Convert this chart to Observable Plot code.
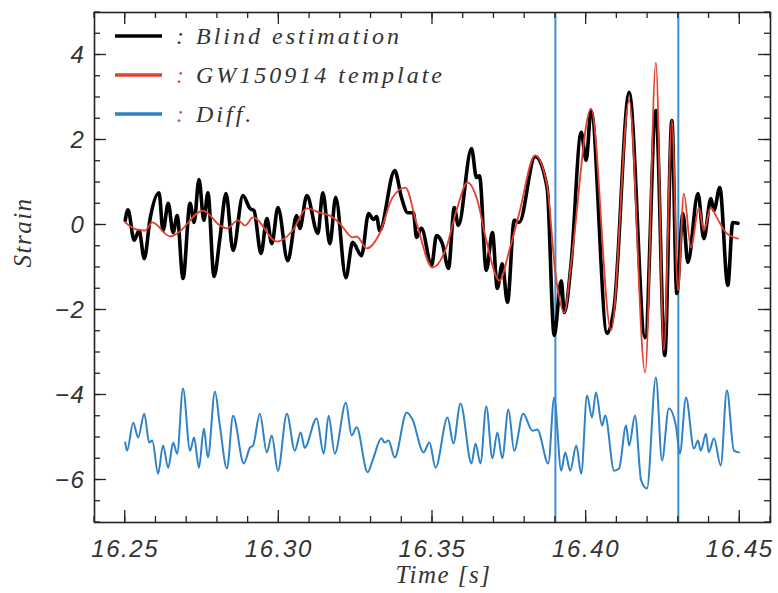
<!DOCTYPE html>
<html><head><meta charset="utf-8">
<script src="https://cdn.jsdelivr.net/npm/d3@7"></script>
<script src="https://cdn.jsdelivr.net/npm/@observablehq/plot@0.6"></script>
<style>
body{margin:0;background:#fff;}
#wrap{width:778px;height:593px;}
.ticklab text{letter-spacing:1.6px;}
.axlab text{letter-spacing:1.5px;}
</style></head><body><div id="wrap"></div>
<script>
// Blind estimation (black)
const blindTime = [16.2500,16.2509,16.2529,16.2545,16.2562,16.2581,16.2610,16.2623,16.2640,16.2656,16.2669,16.2688,16.2711,16.2724,16.2740,16.2756,16.2769,16.2789,16.2808,16.2828,16.2851,16.2883,16.2906,16.2919,16.2942,16.2961,16.2977,16.2997,16.3029,16.3058,16.3068,16.3091,16.3127,16.3143,16.3166,16.3185,16.3218,16.3240,16.3269,16.3292,16.3308,16.3318,16.3328,16.3377,16.3399,16.3419,16.3438,16.3448,16.3464,16.3497,16.3513,16.3532,16.3552,16.3571,16.3584,16.3627,16.3643,16.3653,16.3675,16.3695,16.3711,16.3727,16.3744,16.3766,16.3782,16.3834,16.3873,16.3896,16.3919,16.3929,16.3951,16.3984,16.4000,16.4016,16.4068,16.4091,16.4140,16.4192,16.4227,16.4256,16.4279,16.4295,16.4315,16.4331,16.4364,16.4383,16.4406,16.4416,16.4435,16.4461,16.4477,16.4494];
const blindStrain = [0.11,0.36,-0.36,-0.13,-0.79,0.15,0.76,-0.13,0.51,-0.18,0.22,-1.26,0.51,0.06,1.07,0.11,0.76,-1.21,-0.32,0.74,-0.60,0.69,0.39,0.34,-0.67,0.15,-0.44,0.41,-0.84,0.22,-0.08,0.69,-0.20,0.76,-0.44,0.65,-1.24,-0.41,-0.72,0.27,0.13,0.20,-0.13,1.28,0.65,0.29,0.29,-0.29,-0.08,-0.95,-0.25,-0.44,-1.02,0.41,-0.01,1.80,1.12,1.16,-1.07,-0.18,-1.49,-0.91,-1.82,0.11,0.06,1.61,0.88,-2.60,-1.31,-2.06,-0.91,2.18,1.52,2.69,-2.55,-1.94,3.12,-2.65,2.69,-3.07,2.46,-1.61,0.27,-0.88,0.74,-0.32,0.62,0.34,0.88,-1.42,0.06,0.04];

// GW150914 template (red)
const templateTime = [16.2500,16.2539,16.2565,16.2588,16.2646,16.2669,16.2753,16.2808,16.2831,16.2867,16.2890,16.2916,16.2994,16.3045,16.3091,16.3133,16.3166,16.3198,16.3240,16.3253,16.3286,16.3328,16.3370,16.3412,16.3448,16.3500,16.3545,16.3578,16.3614,16.3646,16.3675,16.3718,16.3750,16.3782,16.3834,16.3873,16.3899,16.3929,16.3951,16.4016,16.4081,16.4140,16.4192,16.4227,16.4253,16.4279,16.4299,16.4318,16.4341,16.4367,16.4383,16.4406,16.4425,16.4455,16.4494];
const templateStrain = [0.06,-0.11,-0.13,0.06,-0.27,-0.20,0.34,-0.01,-0.08,0.11,-0.01,0.18,-0.39,-0.13,0.39,0.29,0.22,0.04,-0.29,-0.27,-0.55,-0.20,0.65,0.88,0.04,-1.00,-0.53,0.34,1.00,0.58,-0.36,-1.31,-0.60,0.27,1.64,0.93,-1.07,-2.06,-0.91,2.74,-2.48,2.93,-3.47,3.82,-2.95,2.46,-1.54,0.74,-0.53,0.41,-0.13,0.41,0.18,-0.18,-0.32];

// Diff. (blue, offset)
const diffTime = [16.2500,16.2506,16.2526,16.2542,16.2562,16.2578,16.2588,16.2607,16.2623,16.2640,16.2656,16.2669,16.2688,16.2711,16.2724,16.2740,16.2756,16.2769,16.2792,16.2808,16.2831,16.2851,16.2886,16.2906,16.2916,16.2938,16.2961,16.2977,16.2997,16.3026,16.3052,16.3071,16.3084,16.3123,16.3146,16.3162,16.3182,16.3218,16.3237,16.3253,16.3289,16.3305,16.3334,16.3344,16.3357,16.3377,16.3416,16.3435,16.3471,16.3490,16.3510,16.3549,16.3568,16.3591,16.3627,16.3640,16.3656,16.3675,16.3695,16.3711,16.3727,16.3747,16.3766,16.3795,16.3825,16.3841,16.3877,16.3896,16.3919,16.3932,16.3948,16.3968,16.3984,16.4003,16.4019,16.4032,16.4052,16.4062,16.4091,16.4107,16.4130,16.4140,16.4159,16.4179,16.4198,16.4227,16.4247,16.4269,16.4292,16.4305,16.4325,16.4351,16.4364,16.4373,16.4390,16.4399,16.4416,16.4438,16.4458,16.4481,16.4497];
const diffStrain = [-5.12,-5.31,-4.65,-5.00,-4.44,-5.12,-5.07,-5.85,-5.19,-5.71,-5.12,-5.38,-3.85,-5.31,-5.00,-5.71,-4.79,-5.47,-3.92,-4.72,-5.73,-4.49,-5.61,-5.24,-5.19,-4.44,-5.35,-4.95,-5.78,-4.44,-5.31,-4.88,-5.24,-4.55,-5.38,-4.49,-5.38,-4.18,-4.95,-4.76,-5.82,-5.54,-5.02,-5.12,-5.07,-5.47,-4.41,-4.58,-5.35,-5.12,-5.71,-4.53,-5.14,-4.20,-5.61,-5.14,-5.61,-4.27,-5.49,-4.88,-5.49,-4.34,-5.31,-4.44,-4.84,-4.81,-5.61,-4.06,-5.78,-5.35,-5.78,-5.19,-5.85,-4.01,-4.53,-3.94,-4.72,-4.48,-5.78,-5.73,-4.72,-5.19,-4.48,-6.01,-6.20,-3.59,-5.54,-4.32,-4.72,-5.38,-4.06,-5.26,-5.07,-5.31,-4.91,-5.35,-5.02,-5.66,-3.89,-5.31,-5.35];

const markerTimes = [16.39, 16.43];
const xMajorTicks = [16.25, 16.30, 16.35, 16.40, 16.45];
const xMinorTicks = [16.24,16.25,16.26,16.27,16.28,16.29,16.30,16.31,16.32,16.33,16.34,16.35,16.36,16.37,16.38,16.39,16.40,16.41,16.42,16.43,16.44,16.45,16.46];
const yMajorTicks = [-6, -4, -2, 0, 2, 4];
const yMinorTicks = [-7,-6.5,-6,-5.5,-5,-4.5,-4,-3.5,-3,-2.5,-2,-1.5,-1,-0.5,0,0.5,1,1.5,2,2.5,3,3.5,4,4.5,5];
const legendLabels = ["Blind estimation", "GW150914 template", "Diff."];
const legendColors = ["#000000", "#e3402f", "#2f82c6"];

const zip = (T, V) => T.map((t, i) => ({t, v: V[i]}));
const blind = zip(blindTime, blindStrain);
const tmpl = zip(templateTime, templateStrain);
const diff = zip(diffTime, diffStrain);

const axisFont = {fontSize: 24, fontStyle: "italic", fontFamily: "Liberation Sans", fill: "#333"};
const labelFont = {fontSize: 25, fontStyle: "italic", fontFamily: "Liberation Serif", fill: "#333", className: "axlab"};

const chart = Plot.plot({
  width: 778, height: 593,
  marginLeft: 94, marginRight: 8, marginTop: 12, marginBottom: 71,
  x: {domain: [16.24, 16.46]},
  y: {domain: [-7, 5]},
  style: {background: "#fff", color: "#222"},
  marks: [
    Plot.ruleX(markerTimes, {stroke: "#3b8fd4", strokeWidth: 2}),
    Plot.line(diff, {x: "t", y: "v", stroke: legendColors[2], strokeWidth: 2, curve: "monotone-x"}),
    Plot.line(blind, {x: "t", y: "v", stroke: legendColors[0], strokeWidth: 3.6, curve: "monotone-x"}),
    Plot.line(tmpl, {x: "t", y: "v", stroke: legendColors[1], strokeWidth: 1.8, curve: "monotone-x"}),
    Plot.frame({stroke: "#222", strokeWidth: 1.6}),
    Plot.axisX(xMajorTicks, {anchor: "bottom", tickSize: 0, tickPadding: 17, label: null, tickFormat: d3.format(".2f"), className: "ticklab", ...axisFont}),
    Plot.axisY(yMajorTicks, {anchor: "left", tickSize: 0, tickPadding: 9, label: null, className: "ticklab", ...axisFont}),
    Plot.text(["Time [s]"], {frameAnchor: "bottom", dx: 11, dy: 60, ...labelFont}),
    Plot.text(["Strain"], {frameAnchor: "left", dx: -72, rotate: -90, ...labelFont})
  ]
});

document.getElementById("wrap").appendChild(chart);

const svg = d3.select(chart);
const sx = chart.scale("x"), sy = chart.scale("y");
const [L, R] = sx.range, [B, T] = sy.range;

// inward ticks on all four sides, placed through Plot's scales
const tg = svg.append("g").attr("stroke", "#222").attr("stroke-width", 1.3);
const drawX = (vals, len) => vals.forEach(v => {
  const x = sx.apply(v);
  tg.append("line").attr("x1", x).attr("x2", x).attr("y1", B).attr("y2", B - len);
  tg.append("line").attr("x1", x).attr("x2", x).attr("y1", T).attr("y2", T + len);
});
const drawY = (vals, len) => vals.forEach(v => {
  const y = sy.apply(v);
  tg.append("line").attr("y1", y).attr("y2", y).attr("x1", L).attr("x2", L + len);
  tg.append("line").attr("y1", y).attr("y2", y).attr("x1", R).attr("x2", R - len);
});
drawX(xMinorTicks, 6); drawX(xMajorTicks, 12);
drawY(yMinorTicks, 6); drawY(yMajorTicks, 12);

// legend drawn inside the frame
const lg = svg.append("g").attr("text-anchor", "start");
legendLabels.forEach((lab, i) => {
  const y = 36 + i * 39;
  lg.append("line").attr("x1", 115).attr("x2", 162).attr("y1", y).attr("y2", y)
    .attr("stroke", legendColors[i]).attr("stroke-width", 3.5);
  const t = lg.append("text").attr("x", 176).attr("y", y + 8)
    .attr("font-family", "Liberation Serif").attr("font-style", "italic")
    .attr("font-size", 24).attr("letter-spacing", "3px").attr("fill", "#333");
  t.append("tspan").attr("fill", i === 0 ? "#333" : "#d9503f").text(":");
  t.append("tspan").text(" " + lab);
});
</script>
</body></html>
